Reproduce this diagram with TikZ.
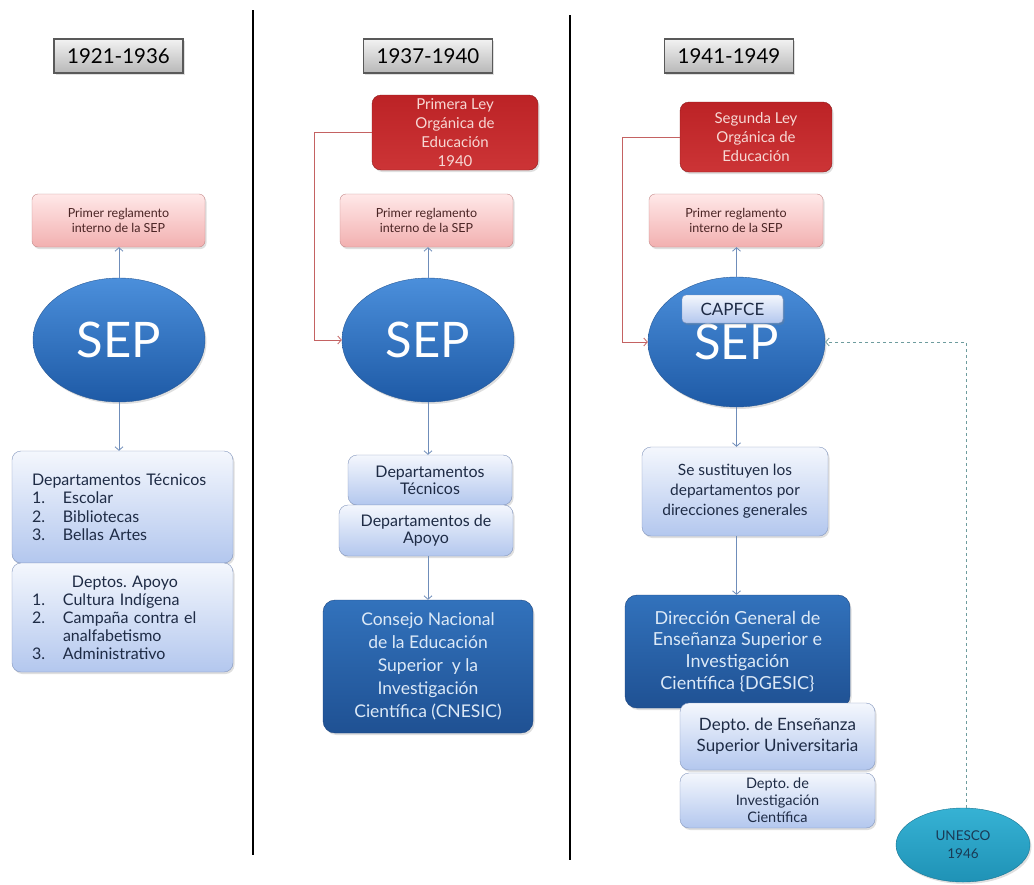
\documentclass[tikz,border=0pt]{standalone}
\usepackage{fontspec}
\setmainfont{Lato}
\frenchspacing
\usetikzlibrary{shapes.geometric,arrows.meta,shadows}
\definecolor{arrc}{HTML}{6F8DBA}
\definecolor{redl}{HTML}{C46262}
\definecolor{dashc}{HTML}{6E9C9E}
\definecolor{pinkt}{HTML}{FFE8E8}
\definecolor{pinkb}{HTML}{F2B0B0}
\definecolor{pinkd}{HTML}{C48A8A}
\definecolor{pinktx}{HTML}{4A2424}
\definecolor{redt}{HTML}{BC2326}
\definecolor{redb}{HTML}{CC3436}
\definecolor{redd}{HTML}{8E1A1A}
\definecolor{redtx}{HTML}{F7D8D4}
\definecolor{sept}{HTML}{4B8FDB}
\definecolor{sepb}{HTML}{1E5AA6}
\definecolor{sepd}{HTML}{2A5B98}
\definecolor{lbt}{HTML}{F4F7FD}
\definecolor{lbb}{HTML}{B3C7EE}
\definecolor{lbd}{HTML}{8396BD}
\definecolor{lbtx}{HTML}{1E2B45}
\definecolor{dbt}{HTML}{3272BC}
\definecolor{dbb}{HTML}{1F5193}
\definecolor{dbd}{HTML}{1C4580}
\definecolor{dbtx}{HTML}{DCE9F7}
\definecolor{unt}{HTML}{36B2D4}
\definecolor{unb}{HTML}{1F92B6}
\definecolor{untx}{HTML}{1A3A55}
\newcommand{\myfs}[2]{\fontsize{#1}{#2}\selectfont}
\begin{document}
\begin{tikzpicture}[x=1pt,y=-1pt,
  shd/.style={drop shadow={opacity=0.25,shadow xshift=1.5pt,shadow yshift=-2pt}},
  hdr/.style={rectangle,draw=black!65,line width=1.2pt,top color=black!5,bottom color=black!28,
    minimum width=129pt,minimum height=34pt,inner sep=0pt,font=\myfs{20.5}{24},shd},
  pinkbox/.style={rectangle,rounded corners=6pt,draw=pinkd,top color=pinkt,bottom color=pinkb,
    minimum width=173pt,minimum height=53pt,inner sep=0pt,align=center,font=\myfs{12.5}{15},text=pinktx,shd},
  redbox/.style={rectangle,rounded corners=9pt,draw=redd,top color=redt,bottom color=redb,
    inner sep=0pt,align=center,font=\myfs{15}{19},text=redtx,shd},
  sepell/.style={ellipse,draw=sepd,top color=sept,bottom color=sepb,inner sep=0pt,
    text=white,font=\myfs{49}{50},shd},
  lbbox/.style={rectangle,rounded corners=9pt,draw=lbd,top color=lbt,bottom color=lbb,
    inner sep=0pt,align=center,text=lbtx,shd},
  dbbox/.style={rectangle,rounded corners=12pt,draw=dbd,top color=dbt,bottom color=dbb,
    inner sep=0pt,align=center,text=dbtx,shd},
  arr/.style={draw=arrc,line width=0.8pt,-{Straight Barb[length=3.5pt,width=8pt]}},
  redline/.style={draw=redl,line width=0.8pt,-{Straight Barb[length=3.5pt,width=8pt]}},
  dashline/.style={draw=dashc,line width=0.8pt,dashed,-{Straight Barb[length=3.5pt,width=8pt]}},
  divider/.style={draw=black,line width=2pt}
]
\useasboundingbox (0,0) rectangle (1034,884);
\fill[white] (0,0) rectangle (1034,884);

% dividers
\draw[divider] (253,10) -- (253,855);
\draw[divider] (570,15) -- (570,860);

% headers
\node[hdr] (h1) at (118.5,56) {1921-1936};
\node[hdr] (h2) at (428,56) {1937-1940};
\node[hdr] (h3) at (729,56) {1941-1949};

% column 1
\node[pinkbox] (p1) at (118.5,220.5) {Primer reglamento\\interno de la SEP};
\node[sepell,minimum width=172pt,minimum height=124pt] (s1) at (119,340) {SEP};
\node[lbbox,minimum width=221pt,minimum height=112pt,text width=201pt,inner xsep=10pt,
  align=left,font=\myfs{16}{18.5}] (d1a) at (122.5,507)
  {\hspace*{10pt}Departamentos Técnicos\\
   \hspace*{10pt}\makebox[31pt][l]{1.}Escolar\\
   \hspace*{10pt}\makebox[31pt][l]{2.}Bibliotecas\\
   \hspace*{10pt}\makebox[31pt][l]{3.}Bellas Artes};
\node[lbbox,minimum width=221pt,minimum height=109pt,text width=201pt,inner xsep=10pt,
  align=left,font=\myfs{16}{18}] (d1b) at (122.5,617.5)
  {\hspace*{50pt}Deptos. Apoyo\\
   \hspace*{10pt}\makebox[31pt][l]{1.}Cultura Indígena\\
   \hspace*{10pt}\makebox[31pt][l]{2.}Campaña contra el\\
   \hspace*{41pt}analfabetismo\\
   \hspace*{10pt}\makebox[31pt][l]{3.}Administrativo};
\draw[arr] (s1.north) -- (s1.north |- p1.south);
\draw[arr] (s1.south) -- (s1.south |- d1a.north);

% column 2
\node[redbox,minimum width=166pt,minimum height=75pt] (r2) at (455,132.5)
  {Primera Ley\\Orgánica de\\Educación\\1940};
\node[pinkbox] (p2) at (426.5,220.5) {Primer reglamento\\interno de la SEP};
\node[sepell,minimum width=172pt,minimum height=124pt] (s2) at (428,340) {SEP};
\node[lbbox,minimum width=164pt,minimum height=50pt,font=\myfs{16}{17}] (d2a) at (430,480)
  {Departamentos\\Técnicos};
\node[lbbox,minimum width=174pt,minimum height=51pt,font=\myfs{16}{17}] (d2b) at (426,530.5)
  {Departamentos de\\Apoyo};
\node[dbbox,minimum width=210pt,minimum height=133pt,font=\myfs{17.5}{23}] (c2) at (428,666.5)
  {Consejo Nacional\\de la Educación\\Superior\ \ y la\\Investigación\\Científica (CNESIC)};
\draw[arr] (s2.north) -- (s2.north |- p2.south);
\draw[arr] (s2.south) -- (s2.south |- d2a.north);
\draw[arr] (c2.north |- d2b.south) -- (c2.north);
\draw[redline] (r2.west) -- ++(-57,0) |- (s2.west);

% column 3
\node[redbox,minimum width=152pt,minimum height=70pt] (r3) at (756,137)
  {Segunda Ley\\Orgánica de\\Educación};
\node[pinkbox,minimum width=174pt] (p3) at (736,220.5) {Primer reglamento\\interno de la SEP};
\node[sepell,minimum width=177pt,minimum height=130pt] (s3) at (736.5,342) {\raisebox{-6pt}{SEP}};
\node[lbbox,rounded corners=4pt,minimum width=101pt,minimum height=28pt,font=\myfs{17}{18}] (cap)
  at (732.5,309) {CAPFCE};
\node[lbbox,minimum width=186pt,minimum height=89pt,font=\myfs{15.5}{20}] (d3) at (735,491.5)
  {Se sustituyen los\\departamentos por\\direcciones generales};
\node[dbbox,minimum width=225pt,minimum height=113pt,font=\myfs{18}{21.7}] (g3) at (737.5,651.5)
  {Dirección General de\\Enseñanza Superior e\\Investigación\\Científica \{DGESIC\}};
\node[lbbox,minimum width=195pt,minimum height=67pt,font=\myfs{17}{21}] (e3a) at (777.5,736.5)
  {Depto. de Enseñanza\\Superior Universitaria};
\node[lbbox,minimum width=195pt,minimum height=55pt,font=\myfs{14.5}{17}] (e3b) at (777.5,800.5)
  {Depto. de\\Investigación\\Científica};
\node[ellipse,draw=unb!80!black,top color=unt,bottom color=unb,inner sep=0pt,
  minimum width=134pt,minimum height=74pt,align=center,text=untx,font=\myfs{13.5}{18},shd]
  (u) at (963,845) {UNESCO\\1946};
\draw[arr] (s3.north) -- (s3.north |- p3.south);
\draw[arr] (s3.south) -- (s3.south |- d3.north);
\draw[arr] (s3.south |- d3.south) -- (s3.south |- g3.north);
\draw[redline] (r3.west) -- ++(-57,0) |- (s3.west);
\draw[dashline] (u.85) |- (s3.east);
\end{tikzpicture}
\end{document}
